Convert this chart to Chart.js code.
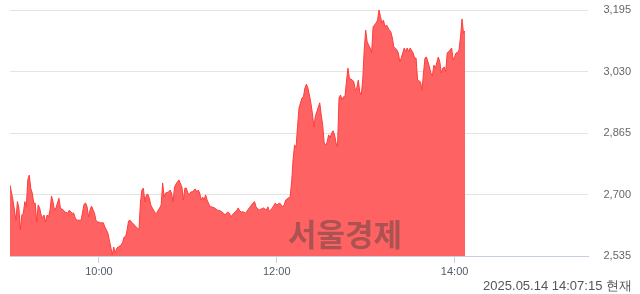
<!DOCTYPE html>
<html>
<head>
<meta charset="utf-8">
<style>
  html, body { margin: 0; padding: 0; background: #ffffff; }
  #wrap { width: 640px; height: 294px; }
</style>
<script src="https://cdn.jsdelivr.net/npm/chart.js@4.4.1/dist/chart.umd.min.js"></script>
</head>
<body>
<div id="wrap"><canvas id="c" width="640" height="294"></canvas></div>
<script>
// minutes after 09:00 for each trade point
const minutes = [0,2,4,5,6,7,8,9,10,11,12,13,14,15,16,17,18,19,20,21,22,23,24,25,26,27,28,29,30,31,32,33,34,35,36,37,39,40,41,42,43,44,45,46,48,49,50,51,52,53,54,55,57,58,59,60,61,62,63,64,66,67,68,69,70,71,72,73,75,76,77,78,79,80,81,82,84,85,86,87,88,89,90,91,92,93,94,95,96,98,99,100,101,102,103,104,105,107,108,109,110,111,112,113,114,116,117,118,119,120,121,122,123,125,126,127,128,129,130,131,132,133,135,136,138,140,142,143,144,145,146,147,148,149,151,152,153,154,155,156,157,159,162,164,165,166,168,171,173,174,175,177,179,180,182,184,185,186,189,190,191,192,193,194,195,197,198,199,200,201,202,203,204,205,206,207,209,210,211,212,213,214,215,216,217,218,219,220,221,222,223,224,225,226,227,228,229,231,232,233,234,235,236,237,238,239,240,241,242,243,244,245,247,248,249,250,251,252,253,254,256,257,258,259,260,261,262,263,264,265,266,267,268,269,270,272,273,274,275,277,278,279,280,281,282,283,284,285,286,287,289,290,291,292,293,294,295,296,298,299,300,301,302,303,304,305,306,307];
const prices = [2725,2685,2631,2681,2664,2605,2645,2650,2681,2667,2739,2752,2717,2704,2677,2677,2626,2672,2664,2645,2637,2645,2626,2645,2640,2658,2696,2681,2658,2664,2677,2690,2664,2661,2658,2653,2650,2658,2653,2650,2650,2637,2631,2631,2631,2653,2674,2677,2667,2640,2658,2669,2650,2631,2626,2626,2624,2624,2624,2613,2597,2578,2559,2538,2559,2543,2556,2559,2564,2572,2586,2586,2605,2629,2631,2626,2618,2613,2610,2605,2677,2712,2717,2680,2699,2701,2690,2672,2664,2650,2650,2658,2664,2672,2731,2693,2704,2707,2712,2704,2680,2720,2728,2734,2739,2720,2685,2717,2717,2704,2699,2707,2707,2715,2707,2712,2704,2685,2693,2685,2699,2685,2667,2667,2664,2658,2656,2653,2650,2645,2650,2653,2650,2640,2650,2653,2658,2664,2656,2653,2654,2650,2667,2677,2681,2667,2658,2664,2658,2667,2654,2664,2677,2672,2677,2667,2672,2685,2694,2731,2793,2833,2825,2882,2932,2959,2962,2986,2996,2986,2967,2946,2919,2882,2909,2922,2946,2913,2886,2838,2833,2841,2860,2852,2865,2871,2860,2838,2828,2959,2967,2954,2962,2962,3002,3039,3012,3007,3002,2980,2986,3007,2975,2967,3007,3088,3141,3109,3101,3093,3080,3150,3160,3168,3195,3177,3160,3168,3150,3155,3141,3136,3120,3096,3093,3088,3080,3056,3066,3080,3093,3083,3093,3083,3093,3080,3066,3066,3007,3002,2980,3026,3066,3069,3056,3042,3026,3018,3047,3039,3069,3056,3026,3039,3042,3029,3080,3083,3093,3061,3069,3080,3080,3088,3123,3171,3133,3139];

const xTickMinutes = [60, 180, 300];
const xTickLabels = ['10:00', '12:00', '14:00'];
const yTickValues = [2535, 2700, 2865, 3030, 3195];
const sessionStart = 0, sessionEnd = 390;   // 09:00 .. 15:30
const stampText = '2025.05.14 14:07:15 현재';
const watermarkText = '서울경제';

const points = minutes.map((m, i) => ({ x: m, y: prices[i] }));

const overlay = {
  id: 'overlay',
  afterDatasetsDraw(chart) {
    const ctx = chart.ctx, a = chart.chartArea;
    ctx.save();
    ctx.font = 'bold 31px "Noto Sans CJK KR"';
    ctx.fillStyle = 'rgba(60,60,60,0.42)';
    ctx.textAlign = 'center';
    ctx.textBaseline = 'middle';
    ctx.fillText(watermarkText, a.left + 335, a.bottom - 22);
    ctx.restore();
  },
  afterDraw(chart) {
    const ctx = chart.ctx;
    ctx.save();
    ctx.font = '13px "Liberation Sans"';
    ctx.fillStyle = '#555555';
    ctx.textAlign = 'right';
    ctx.textBaseline = 'middle';
    ctx.fillText(stampText, 632, 286);
    ctx.restore();
  }
};

new Chart(document.getElementById('c'), {
  type: 'line',
  data: {
    datasets: [{
      data: points,
      borderColor: '#ff3c3c',
      borderWidth: 1,
      backgroundColor: 'rgba(255,98,98,1)',
      fill: 'start',
      pointRadius: 0,
      tension: 0
    }]
  },
  options: {
    responsive: false,
    animation: false,
    devicePixelRatio: 1,
    layout: { padding: { left: 10, right: 9, top: 10, bottom: 0 } },
    plugins: { legend: { display: false }, tooltip: { enabled: false } },
    scales: {
      x: {
        type: 'linear',
        min: sessionStart,
        max: sessionEnd,
        afterBuildTicks: s => { s.ticks = xTickMinutes.map(v => ({ value: v })); },
        afterFit: s => { s.height = 38; },
        ticks: {
          autoSkip: false,
          maxRotation: 0,
          padding: 2,
          color: '#555a66',
          font: { family: 'Liberation Sans', size: 11 },
          callback: (v) => { const i = xTickMinutes.indexOf(v); return i >= 0 ? xTickLabels[i] : ''; }
        },
        grid: { drawOnChartArea: false, drawTicks: true, tickLength: 7, color: '#c9d2e2' },
        border: { display: true, color: '#c5cfe0', width: 1 }
      },
      y: {
        position: 'right',
        min: yTickValues[0],
        max: yTickValues[yTickValues.length - 1],
        afterBuildTicks: s => { s.ticks = yTickValues.map(v => ({ value: v })); },
        afterFit: s => { s.width = 43; },
        ticks: {
          crossAlign: 'far',
          color: '#666666',
          font: { family: 'Liberation Sans', size: 11 },
          callback: v => v.toLocaleString('en-US')
        },
        grid: { drawTicks: false, color: '#e4e4e4', lineWidth: 1 },
        border: { display: false }
      }
    }
  },
  plugins: [overlay]
});
</script>
</body>
</html>
